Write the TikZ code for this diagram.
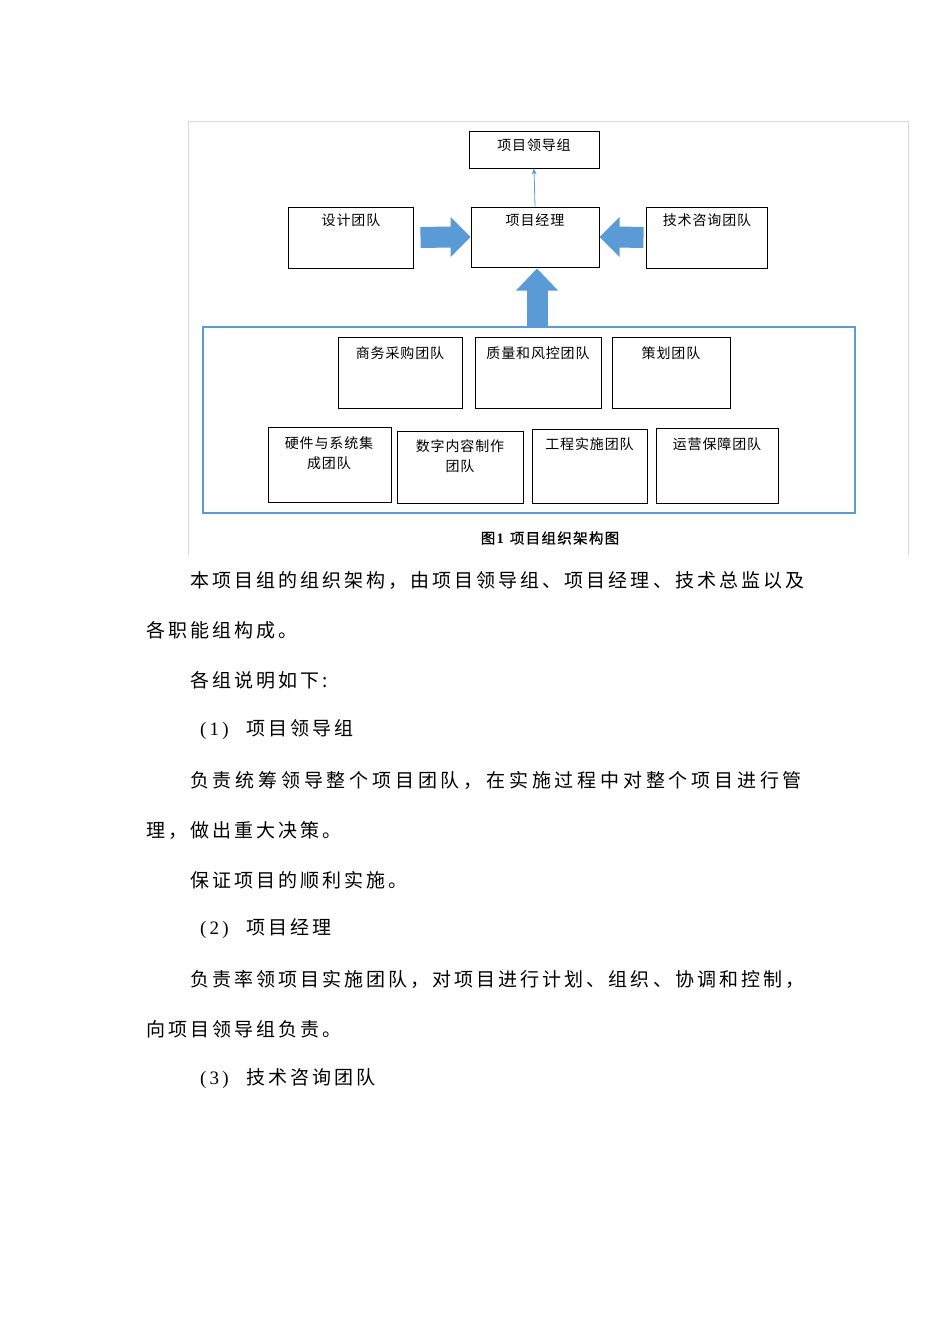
\documentclass[tikz,border=0pt]{standalone}
\usepackage{fontspec}
\setmainfont{Liberation Serif}
\newfontfamily\cjkbox[LetterSpace=6]{Noto Sans CJK SC}
\newfontfamily\cjkcap[LetterSpace=9,FakeBold=0.7]{Noto Sans CJK SC}
\newfontfamily\cjkbody[LetterSpace=16]{Noto Sans CJK SC}
\newfontfamily\cjkbodyw[LetterSpace=20]{Noto Sans CJK SC}
\usetikzlibrary{arrows.meta,calc}
\definecolor{bluec}{HTML}{5B9BD5}
\definecolor{framec}{HTML}{D9D9D9}
\begin{document}
\begin{tikzpicture}[x=1pt,y=-1pt,
  box/.style={draw=black, line width=1pt, fill=white, inner sep=0pt},
  boxtext/.style={font=\fontsize{14}{20}\selectfont\cjkbox, inner sep=0pt, align=center, anchor=center},
  body/.style={font=\fontsize{19}{22}\selectfont\cjkbody, anchor=west, inner sep=0pt},
  blk/.style={draw=bluec, line width=21pt},
]
\useasboundingbox[fill=white] (0,0) rectangle (950,1344);
\draw[framec, line width=0.8pt] (188,555) -- (188,121) -- (908,121) -- (908,555);

% top boxes
\node[box, minimum width=130, minimum height=37] (lead) at (534,149.5) {};
\node[box, minimum width=125, minimum height=61] (design) at (350.5,237.5) {};
\node[box, minimum width=128, minimum height=60] (pm) at (535,237) {};
\node[box, minimum width=121, minimum height=61] (tech) at (706.5,237.5) {};
\node[boxtext] (leadt) at (534,145) {项目领导组};
\node[boxtext] (designt) at (351,220) {设计团队};
\node[boxtext] (pmt) at (535,220) {项目经理};
\node[boxtext] (techt) at (707,220) {技术咨询团队};

% container
\node[draw=bluec, line width=1.5pt, minimum width=652, minimum height=186, inner sep=0pt] (cont) at (529,420) {};

\node[box, minimum width=124, minimum height=71] (b1) at (400,372.5) {};
\node[box, minimum width=126, minimum height=71] (b2) at (538,372.5) {};
\node[box, minimum width=118, minimum height=71] (b3) at (671,372.5) {};
\node[boxtext] (b1t) at (400,353) {商务采购团队};
\node[boxtext] (b2t) at (538,353) {质量和风控团队};
\node[boxtext] (b3t) at (671,353) {策划团队};

\node[box, minimum width=123, minimum height=75] (c1) at (329.5,464.5) {};
\node[box, minimum width=126, minimum height=72] (c2) at (460,467) {};
\node[box, minimum width=115, minimum height=74] (c3) at (589.5,466) {};
\node[box, minimum width=122, minimum height=75] (c4) at (717,465.5) {};
\node[boxtext] (c1t) at (329,453) {硬件与系统集\\成团队};
\node[boxtext] (c2t) at (460,456) {数字内容制作\\团队};
\node[boxtext] (c3t) at (589.5,444) {工程实施团队};
\node[boxtext] (c4t) at (717,444) {运营保障团队};

% thin arrow
\draw[bluec, line width=0.8pt, -{Stealth[length=6pt,width=5pt]}] (pm.north) -- (lead.south);

% block arrows
\draw[blk] ([xshift=7pt]design.east) -- ([xshift=-19pt]pm.west);
\fill[bluec] (pm.west) -- ++(-20,-20) -- ++(0,40) -- cycle;
\draw[blk] ([xshift=-2pt]tech.west) -- ([xshift=18pt]pm.east);
\fill[bluec] (pm.east) -- ++(20,-20) -- ++(0,40) -- cycle;
\draw[blk] ([xshift=2pt]pm.south |- cont.north) -- ([xshift=2pt,yshift=-21pt]pm.south);
\fill[bluec] ([xshift=2pt,yshift=-1pt]pm.south) -- ++(-21,22) -- ++(42,0) -- cycle;

% caption
\node[inner sep=0pt, font=\fontsize{14.5}{20}\selectfont\cjkcap] (cap) at (550,538) {图\textbf{\rmfamily 1}\hspace{6pt}项目组织架构图};

% body text
\node[body] (l1) at (190,580) {本项目组的组织架构，由项目领导组、项目经理、技术总监以及};
\node[body] (l2) at (146,630) {各职能组构成。};
\node[body] (l3) at (190,680) {各组说明如下:};
\node[body] (l4) at (200,730) {\makebox[46pt][l]{\rmfamily(\,1\,)}项目领导组};
\node[body, font=\fontsize{19}{22}\selectfont\cjkbodyw] (l5) at (190,780) {负责统筹领导整个项目团队，在实施过程中对整个项目进行管};
\node[body] (l6) at (146,830) {理，做出重大决策。};
\node[body] (l7) at (190,880) {保证项目的顺利实施。};
\node[body] (l8) at (200,929) {\makebox[46pt][l]{\rmfamily(\,2\,)}项目经理};
\node[body] (l9) at (190,979) {负责率领项目实施团队，对项目进行计划、组织、协调和控制，};
\node[body] (l10) at (146,1029) {向项目领导组负责。};
\node[body] (l11) at (200,1079) {\makebox[46pt][l]{\rmfamily(\,3\,)}技术咨询团队};
\end{tikzpicture}
\end{document}
